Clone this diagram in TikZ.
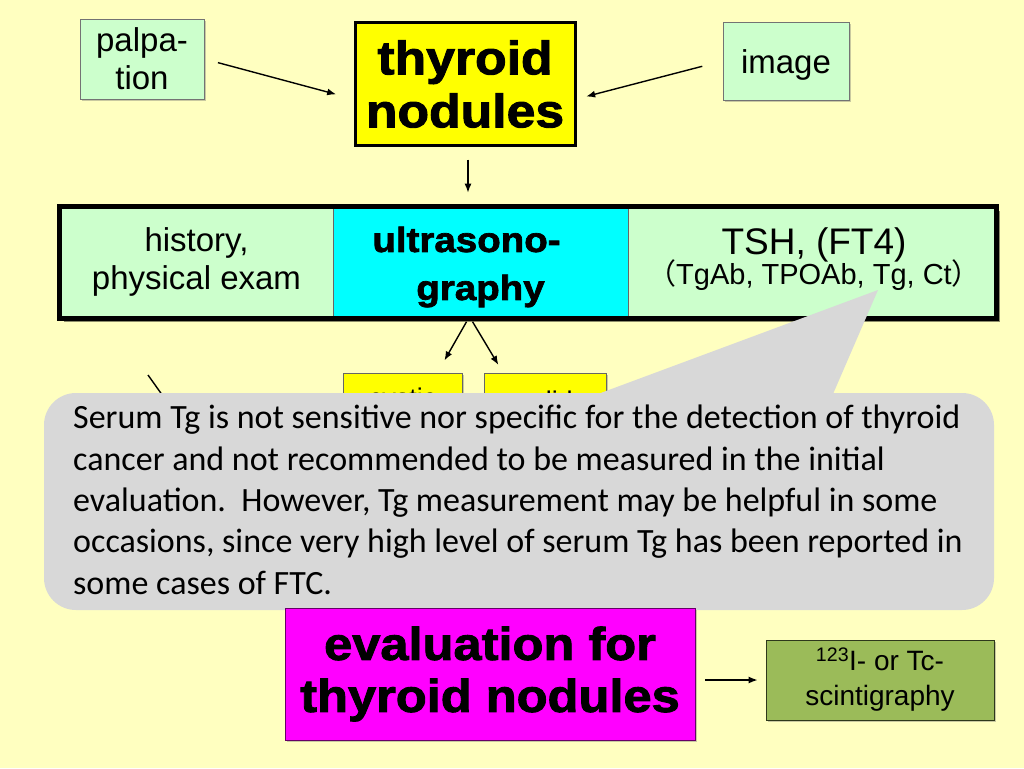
\documentclass[tikz,border=0pt]{standalone}
\usepackage{fontspec}
\setmainfont{Liberation Sans}
\newfontfamily\heavy{Liberation Sans Bold}[FakeStretch=1.1,FakeBold=2]
\newfontfamily\callfont{Carlito}
\newfontfamily\cjk{Noto Sans CJK JP}
\usetikzlibrary{arrows.meta,shadows}
\definecolor{bg}{RGB}{255,255,192}
\definecolor{lgreen}{RGB}{204,255,204}
\definecolor{cyanbox}{RGB}{0,255,255}
\definecolor{ybox}{RGB}{255,255,0}
\definecolor{magbox}{RGB}{255,0,255}
\definecolor{olive}{RGB}{155,187,89}
\definecolor{callgrey}{RGB}{216,216,216}
\tikzset{
  shad/.style={drop shadow={shadow xshift=2pt,shadow yshift=-2pt,opacity=0.35,fill=black!60}},
  lightbox/.style={draw=black!55,line width=0.8pt,fill=lgreen,shad,align=center,inner sep=0pt,font=\fontsize{33}{38}\selectfont},
  cell/.style={draw=black!60,line width=0.6pt,inner sep=0pt,minimum height=111pt},
  celltext/.style={align=center,inner sep=0pt},
  arr/.style={-{Latex[length=9pt,width=7pt]},line width=1.4pt},
  ln/.style={line width=1.4pt}
}
\begin{document}
\begin{tikzpicture}[x=1pt,y=-1pt]
\useasboundingbox (0,0) rectangle (1024,768);
\fill[bg] (0,0) rectangle (1024,768);
% top boxes
\node[lightbox,minimum width=124pt,minimum height=80pt] (palpa) at (142,59) {palpa-\\tion};
\node[draw=black,line width=3pt,fill=ybox,shad,align=center,inner sep=0pt,minimum width=220pt,minimum height=122pt,font=\heavy\fontsize{47}{53}\selectfont] (thy) at (465,84) {thyroid\\nodules};
\node[lightbox,minimum width=126pt,minimum height=78pt] (image) at (786,61) {};
\node[inner sep=0pt,font=\fontsize{33}{38}\selectfont] (imageT) at (786,65) {image};
% band
\fill[black,opacity=0.45] (64,211) rectangle (1000,322);
\node[cell,fill=lgreen,minimum width=273pt] (hist) at (196.5,262.5) {};
\node[cell,fill=cyanbox,minimum width=295pt] (us) at (480.5,262.5) {};
\node[cell,fill=lgreen,minimum width=368pt] (lab) at (812,262.5) {};
\draw[line width=5pt] (hist.north west) rectangle (lab.south east);
\node[celltext,font=\fontsize{33}{38}\selectfont] (histT) at (196.5,262) {history,\\physical exam};
\node[celltext,font=\heavy\fontsize{35}{48}\selectfont] (usT) at (480.5,267) {ultrasono-\hspace*{28pt}\\graphy};
\node[celltext] (labT) at (814,259) {{\fontsize{37}{38}\selectfont TSH, (FT4)}\\[-4pt]{\fontsize{29}{32}\selectfont{\cjk（}TgAb, TPOAb, Tg, Ct{\cjk）}}};
% hidden small boxes
\node[draw=black!60,line width=0.8pt,fill=ybox,shad,minimum width=119pt,minimum height=56pt,inner sep=0pt,font=\fontsize{27}{30}\selectfont] (cys) at (402.5,401) {cystic};
\node[draw=black!60,line width=0.8pt,fill=ybox,shad,minimum width=122pt,minimum height=56pt,inner sep=0pt,font=\fontsize{27}{30}\selectfont] (sol) at (545,401) {solid};
\coordinate (h1) at (148,375);
\coordinate (h2) at (180,420);
\draw[ln] (h1) -- (h2);
% arrows
\draw[arr,shorten <=14pt,shorten >=18pt] (palpa.east) -- ([yshift=-15pt]thy.west);
\draw[arr,shorten <=21pt,shorten >=10pt] (image.west) -- ([yshift=-15pt]thy.east);
\draw[arr,shorten <=13pt,shorten >=14pt] ([xshift=3pt]thy.south) -- ([xshift=3pt]thy.south |- hist.north);
\draw[arr,shorten <=4pt,shorten >=14pt] ([xshift=-12pt]us.south) -- ([xshift=35pt]cys.north);
\draw[arr,shorten <=4pt,shorten >=9pt] ([xshift=-10pt]us.south) -- ([xshift=-42pt]sol.north);
% callout
\fill[callgrey,rounded corners=32pt] (44,393) rectangle (994,610);
\fill[callgrey] (598,394) -- (878,290) -- (833,394) -- cycle;
\node[anchor=north west,align=left,inner sep=0pt,font=\callfont\fontsize{34}{41.3}\selectfont] (note) at (73,405) {Serum Tg is not sensitive nor specific for the detection of thyroid\\cancer and not recommended to be measured in the initial\\evaluation.\ \ However, Tg measurement may be helpful in some\\occasions, since very high level of serum Tg has been reported in\\some cases of FTC.};
% bottom
\node[draw=black!60!magbox,line width=0.8pt,fill=magbox,shad,align=center,inner sep=0pt,minimum width=410pt,minimum height=132pt,font=\heavy\fontsize{46}{52}\selectfont] (eval) at (490,674) {evaluation for\\thyroid nodules};
\node[draw=black!70!olive,line width=0.8pt,fill=olive,shad,align=center,inner sep=0pt,minimum width=228pt,minimum height=80pt,font=\fontsize{28}{35}\selectfont] (scint) at (880,680) {\textsuperscript{123}I- or Tc-\\scintigraphy};
\draw[arr,shorten <=10pt,shorten >=8pt] ([yshift=-6pt]eval.east) -- ([yshift=-6pt]eval.east -| scint.west);
\end{tikzpicture}
\end{document}
